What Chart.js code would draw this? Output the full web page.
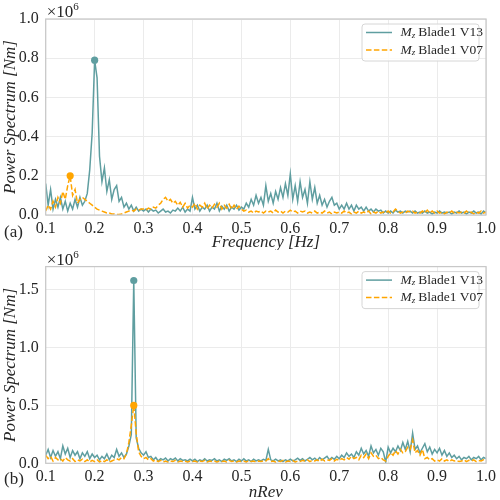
<!DOCTYPE html>
<html>
<head>
<meta charset="utf-8">
<script src="https://cdn.jsdelivr.net/npm/chart.js@4.4.0/dist/chart.umd.min.js"></script>
<style>
body{margin:0;background:#fff;}
canvas{position:absolute;left:0;}
#chartA{top:0;}
#chartB{top:250px;}
</style>
</head>
<body>
<canvas id="chartA" width="500" height="250"></canvas>
<canvas id="chartB" width="500" height="250"></canvas>
<script>
// sampling grid (both panels): 0.1 .. 1.0 step 0.005
const xStart=0.1, xStep=0.005;
const seriesNames=['Blade1 V13','Blade1 V07'];
const xTicks=['0.1','0.2','0.3','0.4','0.5','0.6','0.7','0.8','0.9','1.0'];

// (a) power spectrum vs frequency, values in 1e6 Nm
const freqV13=[
0.16,0.05,0.13,0.03,0.08,0.04,0.09,0.03,0.07,0.02,
0.06,0.03,0.08,0.04,0.09,0.05,0.07,0.11,0.23,0.42,
0.79,0.70,0.30,0.17,0.24,0.12,0.18,0.08,0.13,0.15,
0.07,0.09,0.04,0.06,0.03,0.05,0.02,0.04,0.02,0.03,
0.02,0.03,0.015,0.03,0.02,0.025,0.01,0.02,0.03,0.015,
0.02,0.01,0.025,0.02,0.035,0.02,0.04,0.015,0.03,0.02,
0.09,0.03,0.05,0.02,0.04,0.03,0.05,0.02,0.04,0.03,
0.06,0.02,0.045,0.03,0.05,0.02,0.04,0.03,0.05,0.025,
0.04,0.03,0.06,0.04,0.08,0.05,0.10,0.06,0.09,0.05,
0.15,0.07,0.11,0.06,0.12,0.08,0.14,0.09,0.16,0.10,
0.21,0.08,0.15,0.07,0.17,0.09,0.13,0.06,0.17,0.08,
0.14,0.06,0.10,0.05,0.08,0.04,0.07,0.09,0.05,0.06,
0.03,0.05,0.03,0.06,0.03,0.05,0.02,0.05,0.03,0.04,
0.02,0.04,0.02,0.03,0.015,0.03,0.02,0.025,0.01,0.02,
0.01,0.02,0.01,0.025,0.015,0.02,0.01,0.02,0.015,0.02,
0.01,0.02,0.01,0.015,0.01,0.02,0.01,0.015,0.005,0.015,
0.01,0.02,0.01,0.015,0.01,0.015,0.005,0.015,0.01,0.02,
0.01,0.015,0.005,0.015,0.01,0.02,0.01,0.015,0.005,0.02,
0.01];
const freqV07=[
0.02,0.05,0.03,0.07,0.04,0.09,0.06,0.12,0.08,0.15,
0.20,0.10,0.13,0.06,0.08,0.09,0.08,0.07,0.06,0.05,
0.04,0.03,0.025,0.02,0.015,0.01,0.01,0.005,0.005,0.003,
0.003,0.005,0.01,0.015,0.02,0.025,0.02,0.03,0.025,0.03,
0.03,0.025,0.035,0.03,0.04,0.035,0.05,0.06,0.08,0.09,
0.07,0.08,0.06,0.07,0.05,0.065,0.04,0.06,0.035,0.05,
0.04,0.06,0.03,0.05,0.04,0.06,0.03,0.05,0.035,0.055,
0.04,0.06,0.03,0.05,0.035,0.055,0.03,0.05,0.03,0.045,
0.03,0.02,0.025,0.015,0.02,0.01,0.02,0.015,0.02,0.01,
0.02,0.015,0.02,0.01,0.025,0.015,0.02,0.01,0.02,0.015,
0.025,0.015,0.02,0.01,0.02,0.015,0.02,0.01,0.015,0.01,
0.02,0.01,0.015,0.01,0.02,0.01,0.015,0.005,0.015,0.01,
0.015,0.01,0.02,0.01,0.015,0.005,0.015,0.01,0.02,0.01,
0.015,0.01,0.02,0.005,0.015,0.01,0.02,0.01,0.015,0.01,
0.02,0.01,0.015,0.03,0.02,0.01,0.015,0.01,0.02,0.015,
0.02,0.01,0.015,0.01,0.02,0.01,0.025,0.01,0.02,0.01,
0.02,0.01,0.015,0.005,0.015,0.01,0.02,0.01,0.015,0.01,
0.015,0.01,0.02,0.01,0.015,0.005,0.015,0.01,0.02,0.01,
0.015];

// (b) power spectrum vs nRev, values in 1e6 Nm
const revV13=[
0.07,0.12,0.05,0.11,0.06,0.10,0.04,0.15,0.08,0.13,
0.05,0.11,0.07,0.10,0.04,0.09,0.06,0.10,0.04,0.08,
0.05,0.07,0.03,0.06,0.04,0.08,0.03,0.07,0.05,0.12,
0.06,0.09,0.05,0.08,0.15,0.25,1.58,0.22,0.13,0.09,
0.07,0.10,0.05,0.06,0.03,0.05,0.02,0.04,0.03,0.045,
0.02,0.04,0.03,0.045,0.02,0.04,0.025,0.03,0.02,0.035,
0.02,0.035,0.015,0.03,0.02,0.04,0.02,0.03,0.025,0.04,
0.02,0.03,0.015,0.035,0.025,0.04,0.02,0.03,0.015,0.035,
0.02,0.04,0.02,0.03,0.015,0.035,0.02,0.03,0.02,0.035,
0.025,0.12,0.03,0.02,0.035,0.02,0.03,0.015,0.03,0.02,
0.035,0.02,0.03,0.045,0.025,0.04,0.02,0.035,0.05,0.03,
0.045,0.025,0.05,0.03,0.045,0.06,0.03,0.05,0.035,0.06,
0.04,0.07,0.05,0.09,0.06,0.08,0.05,0.10,0.07,0.13,
0.08,0.11,0.06,0.15,0.09,0.12,0.07,0.13,0.10,0.01,
0.14,0.09,0.13,0.10,0.15,0.11,0.18,0.12,0.19,0.10,
0.26,0.12,0.15,0.09,0.13,0.17,0.10,0.14,0.08,0.12,
0.09,0.13,0.07,0.11,0.06,0.09,0.05,0.07,0.04,0.06,
0.03,0.05,0.04,0.06,0.03,0.05,0.04,0.06,0.03,0.05,
0.04];
const revV07=[
0.07,0.04,0.06,0.02,0.05,0.03,0.04,0.02,0.05,0.03,
0.02,0.04,0.015,0.03,0.02,0.035,0.015,0.03,0.01,0.025,
0.015,0.03,0.01,0.025,0.015,0.03,0.01,0.02,0.03,0.04,
0.03,0.05,0.04,0.08,0.18,0.33,0.50,0.26,0.10,0.06,
0.04,0.05,0.03,0.04,0.02,0.03,0.015,0.025,0.01,0.02,
0.01,0.02,0.015,0.025,0.01,0.02,0.015,0.02,0.01,0.02,
0.015,0.02,0.01,0.02,0.015,0.025,0.01,0.02,0.015,0.02,
0.01,0.02,0.015,0.02,0.01,0.025,0.015,0.02,0.01,0.02,
0.015,0.02,0.01,0.025,0.015,0.02,0.01,0.02,0.015,0.02,
0.02,0.04,0.015,0.02,0.01,0.02,0.015,0.025,0.01,0.02,
0.015,0.025,0.01,0.02,0.015,0.025,0.02,0.03,0.015,0.025,
0.02,0.03,0.015,0.035,0.02,0.03,0.025,0.04,0.02,0.035,
0.025,0.04,0.03,0.05,0.035,0.06,0.04,0.05,0.03,0.07,
0.05,0.08,0.04,0.09,0.06,0.07,0.04,0.05,0.03,0.02,
0.06,0.09,0.07,0.11,0.08,0.12,0.09,0.10,0.14,0.12,
0.20,0.09,0.11,0.07,0.12,0.04,0.05,0.03,0.04,0.02,
0.03,0.02,0.04,0.02,0.03,0.015,0.03,0.02,0.025,0.015,
0.02,0.03,0.015,0.025,0.02,0.03,0.015,0.025,0.02,0.03,
0.02];

const TEAL='#5f9ea0', ORANGE='#ffa500', TXT='#262626';
const SERIF='"Liberation Serif","DejaVu Serif",serif';

function toPoints(vals){
return vals.map((v,i)=>({x:+(xStart+i*xStep).toFixed(3),y:v}));
}

function peak(vals){
let k=0;
vals.forEach((v,i)=>{if(v>vals[k])k=i;});
return [{x:+(xStart+k*xStep).toFixed(3),y:vals[k]}];
}

// box, x10^6 offset, panel letter, legend
const deco={
id:'deco',
afterDraw(chart,args,o){
const ctx=chart.ctx, a=chart.chartArea;
ctx.save();
ctx.strokeStyle='#c8c8c8';
ctx.lineWidth=1.25;
ctx.strokeRect(a.left,a.top,a.right-a.left,a.bottom-a.top);

ctx.fillStyle=TXT;
ctx.textAlign='left';
ctx.textBaseline='alphabetic';
ctx.font='17px '+SERIF;
ctx.fillText('\u00d710',a.left+1,a.top-2);
let w=ctx.measureText('\u00d710').width;
ctx.font='11px '+SERIF;
ctx.fillText('6',a.left+1+w,a.top-9);

ctx.font='17px '+SERIF;
ctx.textBaseline='middle';
ctx.fillText(o.panel,4,o.panelY);

// legend
const bx=a.right-124, by=a.top+5, bw=117, bh=37;
ctx.fillStyle='rgba(255,255,255,0.8)';
ctx.strokeStyle='#d6d6d6';
ctx.lineWidth=1;
ctx.beginPath();
ctx.roundRect(bx,by,bw,bh,3);
ctx.fill();
ctx.stroke();
const rows=[{c:TEAL,dash:[],y:by+8.5},{c:ORANGE,dash:[5.5,2.4],y:by+26}];
rows.forEach((r,i)=>{
ctx.strokeStyle=r.c;
ctx.lineWidth=1.5;
ctx.setLineDash(r.dash);
ctx.beginPath();
ctx.moveTo(bx+4,r.y);
ctx.lineTo(bx+30,r.y);
ctx.stroke();
ctx.setLineDash([]);
ctx.fillStyle=TXT;
ctx.textBaseline='middle';
let tx=bx+38.5;
ctx.font='italic 13.5px '+SERIF;
ctx.fillText('M',tx,r.y);
tx+=ctx.measureText('M').width;
ctx.font='italic 9px '+SERIF;
ctx.fillText('z',tx,r.y+3);
tx+=ctx.measureText('z').width+3;
ctx.font='13.5px '+SERIF;
ctx.fillText(seriesNames[i],tx,r.y);
});
ctx.restore();
}
};

function makeChart(id,v13,v07,cfg){
new Chart(document.getElementById(id),{
type:'line',
data:{
datasets:[
{label:seriesNames[0],data:toPoints(v13),borderColor:TEAL,borderWidth:1.5,pointRadius:0,order:4},
{label:seriesNames[1],data:toPoints(v07),borderColor:ORANGE,borderWidth:1.5,borderDash:[5.5,2.4],pointRadius:0,order:3},
{data:peak(v13),showLine:false,pointRadius:3.6,pointBackgroundColor:TEAL,pointBorderWidth:0,order:2},
{data:peak(v07),showLine:false,pointRadius:3.6,pointBackgroundColor:ORANGE,pointBorderWidth:0,order:1}
]
},
options:{
responsive:false,
animation:false,
devicePixelRatio:1,
layout:{padding:{top:cfg.top,right:13.3,left:0,bottom:0}},
plugins:{legend:{display:false},tooltip:{enabled:false},deco:{panel:cfg.panel,panelY:cfg.panelY}},
elements:{line:{tension:0}},
scales:{
x:{
type:'linear',min:0.1,max:1.0,
afterFit:s=>{s.height=cfg.xh;},
afterBuildTicks:s=>{s.ticks=xTicks.map(t=>({value:+t}));},
ticks:{font:{family:SERIF,size:16},color:TXT,padding:4,callback:v=>v.toFixed(1),maxRotation:0},
grid:{color:'#ebebeb',lineWidth:1,drawTicks:false},
border:{display:false},
title:{display:true,text:cfg.xTitle,font:{family:SERIF,size:17,style:'italic'},color:TXT,padding:{top:0,bottom:-3}}
},
y:{
min:0,max:cfg.ymax,
afterFit:s=>{s.width=45.7;},
ticks:{stepSize:cfg.ystep,includeBounds:false,font:{family:SERIF,size:16},color:TXT,padding:7,callback:v=>v.toFixed(1)},
grid:{color:'#ebebeb',lineWidth:1,drawTicks:false},
border:{display:false},
title:{display:true,text:'Power Spectrum [Nm]',font:{family:SERIF,size:17,style:'italic'},color:TXT,padding:{top:0,bottom:0}}
}
}
},
plugins:[deco]
});
}

makeChart('chartA',freqV13,freqV07,{top:19,xh:35,ymax:1.0,ystep:0.2,xTitle:'Frequency [Hz]',panel:'(a)',panelY:233});
makeChart('chartB',revV13,revV07,{top:16,xh:36.7,ymax:1.7,ystep:0.5,xTitle:'nRev',panel:'(b)',panelY:230});
</script>
</body>
</html>
